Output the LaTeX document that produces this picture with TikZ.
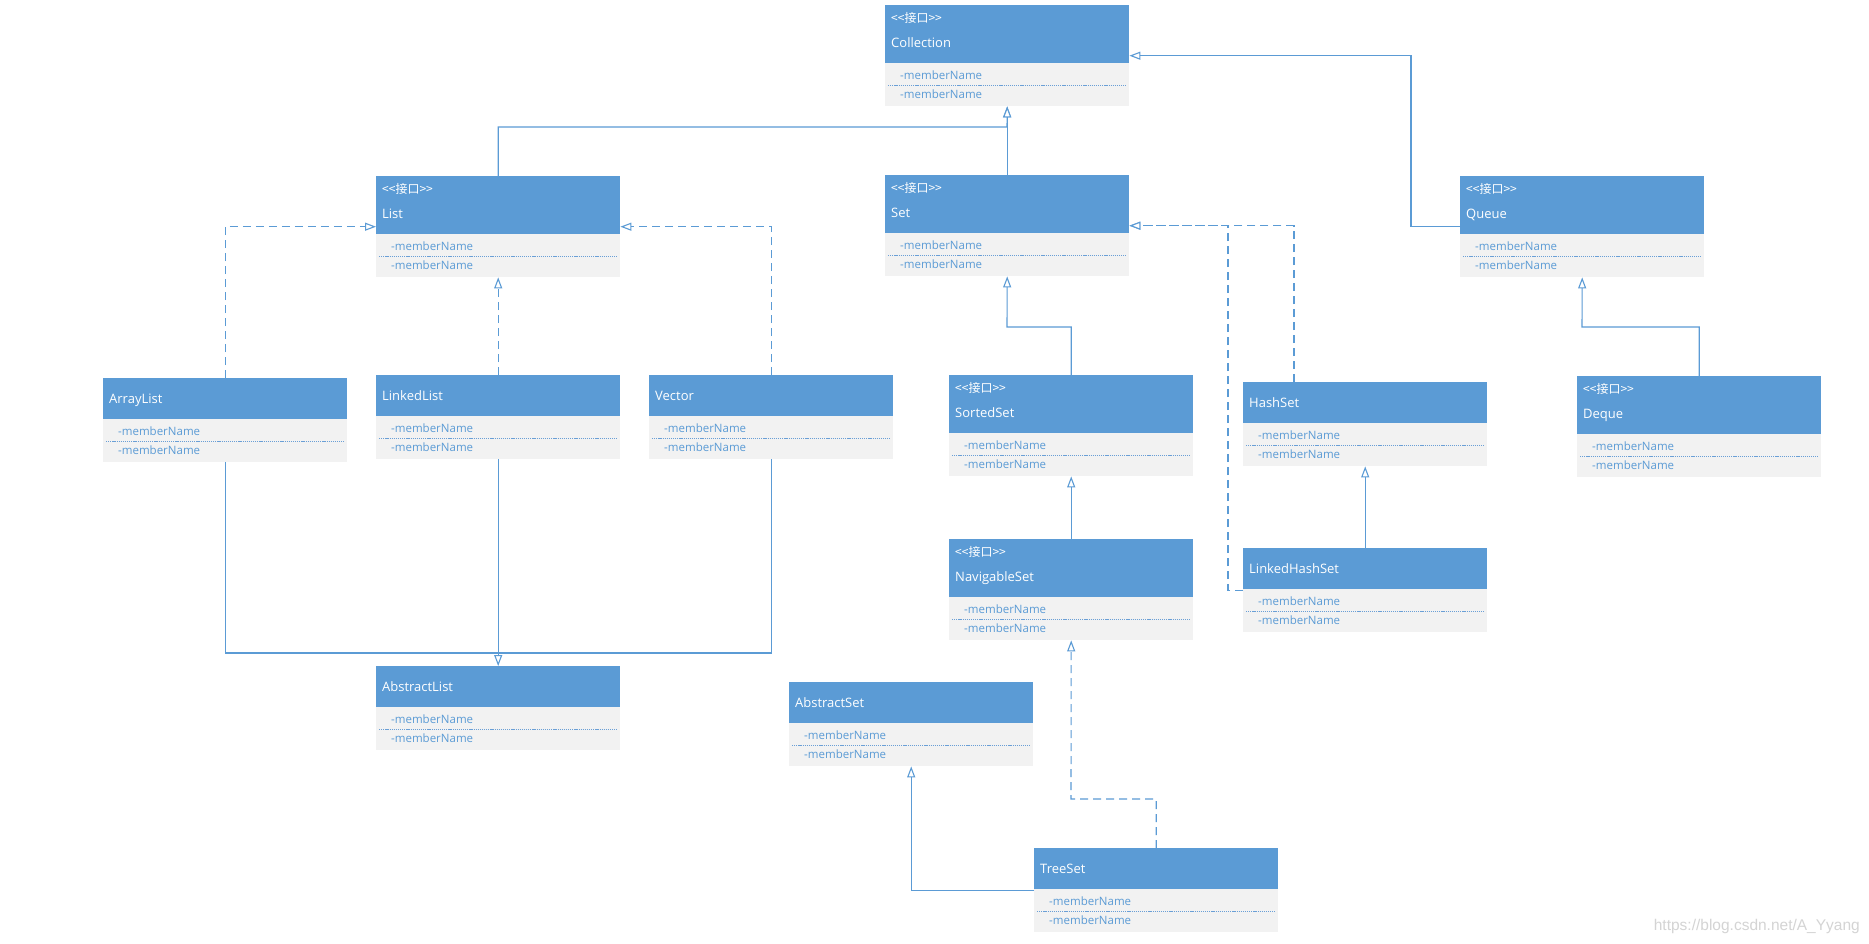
\documentclass[tikz,border=0pt]{standalone}
\usepackage{fontspec}
\setmainfont{Open Sans}
\newfontfamily\cjkfont{Noto Sans CJK SC}
\newfontfamily\wmfont{Liberation Sans}
\usetikzlibrary{arrows.meta}
\definecolor{hdr}{HTML}{5B9BD5}
\definecolor{membg}{HTML}{F2F2F2}
\definecolor{memtxt}{HTML}{5B9BD5}
\definecolor{sepc}{HTML}{6A9FD6}
\definecolor{conn}{HTML}{5B9BD5}
\definecolor{wmgray}{HTML}{D4D4D4}
\tikzset{
  boxbg/.style={rectangle, fill=membg, draw=none, inner sep=0pt, minimum width=244pt},
  hdrfill/.style={fill=hdr},
  sepline/.style={draw=sepc, line width=1pt, dash pattern=on 1.2pt off 0.9pt},
  ttl/.style={text=white, inner sep=0pt, font=\fontsize{13}{15}\selectfont},
  stereo/.style={text=white, inner sep=0pt, font=\cjkfont\fontsize{12}{14}\selectfont},
  mem/.style={text=memtxt, inner sep=0pt, font=\fontsize{11.5}{13}\selectfont},
  gen/.style={draw=conn, line width=1.1pt, -{Triangle[open, length=11pt, width=8pt, fill=white]}},
  plainln/.style={draw=conn, line width=1.1pt},
  real/.style={gen, dash pattern=on 8pt off 5pt},
}
\newcommand\umlbox[5]{%
  \node[boxbg, anchor=north west, minimum height=\the\numexpr#4+43\relax pt] (#1) at (#2,#3) {};
  \fill[hdrfill] (#1.north west) rectangle ([yshift=-#4pt]#1.north east);
  \draw[sepline] ([xshift=3pt,yshift=-#4pt-22pt]#1.north west) -- ([xshift=-3pt,yshift=-#4pt-22pt]#1.north east);
  \node[ttl, anchor=base west] (#1-t) at ([xshift=6pt,yshift=-#4pt+16pt]#1.north west) {#5};
  \node[mem, anchor=base west] (#1-m1) at ([xshift=15pt,yshift=-#4pt-16pt]#1.north west) {-memberName};
  \node[mem, anchor=base west] (#1-m2) at ([xshift=15pt,yshift=-#4pt-35.5pt]#1.north west) {-memberName};
}
\newcommand\ifacebox[4]{\umlbox{#1}{#2}{#3}{58}{#4}%
  \node[stereo, anchor=base west] (#1-s) at ([xshift=6pt,yshift=-17pt]#1.north west) {<<接口>>};}
\newcommand\clsbox[4]{\umlbox{#1}{#2}{#3}{41}{#4}}
\begin{document}
\begin{tikzpicture}[x=1pt,y=-1pt]
\fill[white] (0,0) rectangle (1869,943);
\useasboundingbox (0,0) rectangle (1869,943);

% boxes
\ifacebox{coll}{885}{5}{Collection}
\ifacebox{list}{376}{176}{List}
\ifacebox{set}{885}{175}{Set}
\ifacebox{queue}{1460}{176}{Queue}
\clsbox{arraylist}{103}{378}{ArrayList}
\clsbox{linkedlist}{376}{375}{LinkedList}
\clsbox{vector}{649}{375}{Vector}
\ifacebox{sortedset}{949}{375}{SortedSet}
\clsbox{hashset}{1243}{382}{HashSet}
\clsbox{linkedhashset}{1243}{548}{LinkedHashSet}
\ifacebox{deque}{1577}{376}{Deque}
\ifacebox{navset}{949}{539}{NavigableSet}
\clsbox{abslist}{376}{666}{AbstractList}
\clsbox{absset}{789}{682}{AbstractSet}
\clsbox{treeset}{1034}{848}{TreeSet}

% junction coordinates
\coordinate (jlist) at (1007,127);
\coordinate (jal) at (498,653);
\coordinate (jss) at (1007,327);
\coordinate (jdq) at (1582,327);
\coordinate (jts) at (1071,799);

% connectors
\draw[gen] (list.north) |- (jlist) -- (coll.south);
\draw[gen] (set.north) -- (coll.south);
\draw[gen] (queue.west) -- ++(-49,0) |- (coll.east);
\draw[real] (arraylist.north) |- (list.west);
\draw[real] (linkedlist.north) -- (list.south);
\draw[real] (vector.north) |- (list.east);
\draw[plainln] (arraylist.south) |- (jal);
\draw[plainln] (vector.south) |- (jal);
\draw[gen] (linkedlist.south) -- (abslist.north);
\draw[gen] (sortedset.north) |- (jss) -- (set.south);
\draw[real] ([xshift=51pt]hashset.north west) |- (set.east);
\draw[real] (linkedhashset.west) -- ++(-15,0) |- (set.east);
\draw[gen] (linkedhashset.north) -- (hashset.south);
\draw[gen] (deque.north) |- (jdq) -- (queue.south);
\draw[gen] (navset.north) -- (sortedset.south);
\draw[real] (treeset.north) |- (jts) -- (navset.south);
\draw[gen] (treeset.west) -| (absset.south);

% watermark
\node[anchor=base east, text=wmgray, inner sep=0pt, font=\wmfont\fontsize{15.5}{17}\selectfont] (wm) at (1860,930) {https://blog.csdn.net/A\_Yyang};
\end{tikzpicture}
\end{document}
